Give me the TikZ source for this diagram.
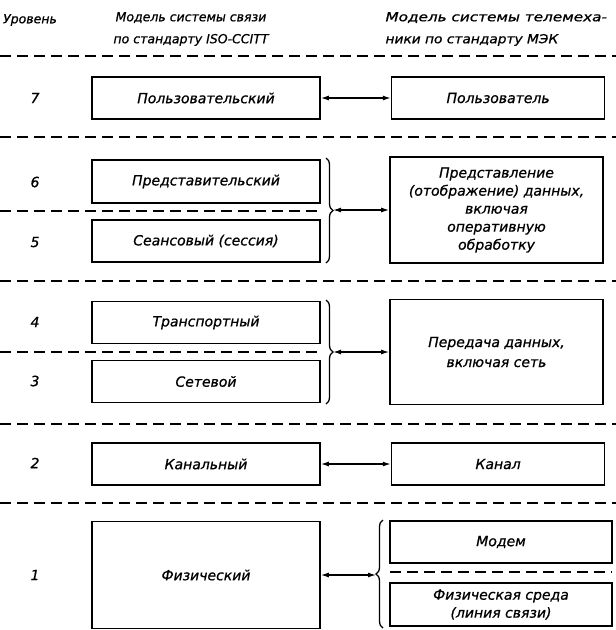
\documentclass[tikz,border=0pt]{standalone}
\usepackage{fontspec}
\setmainfont{DejaVu Sans}[FakeBold=0.8]
\usetikzlibrary{arrows.meta,positioning,decorations.pathreplacing}
\newcommand\boxfont{\fontsize{14}{18}\selectfont\itshape}
\newcommand\headfont{\fontsize{12.5}{22}\selectfont\itshape}

\begin{document}
\begin{tikzpicture}[
  x=1pt,y=-1pt,
  lbox/.style={draw,line width=1.6pt,minimum width=228pt,minimum height=42pt,
               inner sep=0pt,align=center,font=\boxfont},
  rbox/.style={lbox,minimum width=213pt},
  lvl/.style={font=\boxfont},
  arr/.style={{Latex[length=8pt,width=5pt]}-{Latex[length=8pt,width=5pt]},line width=1.3pt},
  sep/.style={dashed,dash pattern=on 11pt off 6pt,line width=1.3pt},
  brc/.style={decorate,decoration={brace,amplitude=7pt},line width=1.3pt}
]
\useasboundingbox (0,0) rectangle (616,630);
% header
\node[font=\headfont] (hlvl) at (30,20) {Уровень};
\node[font=\headfont,align=center] (hiso) at (191,29) {Модель системы связи\\по стандарту ISO-CCITT};
\node[font=\headfont,align=left,anchor=west] (hmek) at (382,29)
  {\scalebox{1.22}[1]{Модель системы телемеха-}\\\scalebox{1.1}[1]{ники по стандарту МЭК}};
\draw[sep] (0,56) -- (616,56);
% level 7
\node[lvl] (n7) at (35,98) {7};
\node[lbox] (l7) at (206,98) {Пользовательский};
\node[rbox,right=70pt of l7] (r7) {Пользователь};
\draw[arr] (l7) -- (r7);
\draw[sep] (0,137) -- (616,137);
% levels 6, 5
\node[lvl] (n6) at (35,182) {6};
\node[lvl] (n5) at (35,242) {5};
\node[lbox,minimum height=43pt] (l6) at (206,181.5) {Представительский};
\node[lbox] (l5) at (206,241) {Сеансовый (сессия)};
\draw[sep] (0,211) -- (322,211);
\node[rbox,minimum height=106pt] (r65) at (496.5,210)
  {Представление\\(отображение) данных,\\включая\\оперативную\\обработку};
\draw[brc] (326,158) -- (326,263);
\coordinate (b65) at (333,210);
\draw[arr] (b65) -- (r65);
\draw[sep] (0,281) -- (616,281);
% levels 4, 3
\node[lvl] (n4) at (35,322) {4};
\node[lvl] (n3) at (35,381) {3};
\node[lbox] (l4) at (206,322.5) {Транспортный};
\node[lbox] (l3) at (206,381.5) {Сетевой};
\draw[sep] (0,352) -- (322,352);
\node[rbox,minimum height=105pt] (r43) at (496.5,352)
  {Передача данных,\\[2pt]включая сеть};
\draw[brc] (326,300) -- (326,404);
\coordinate (b43) at (333,352);
\draw[arr] (b43) -- (r43);
\draw[sep] (0,424) -- (616,424);
% level 2
\node[lvl] (n2) at (35,463) {2};
\node[lbox] (l2) at (206,464) {Канальный};
\node[rbox,right=70pt of l2] (r2) {Канал};
\draw[arr] (l2) -- (r2);
\draw[sep] (0,503) -- (616,503);
% level 1
\node[lvl] (n1) at (35,575) {1};
\node[lbox,minimum height=107pt] (l1) at (206,575) {Физический};
\node[rbox,minimum width=222pt] (rm) at (501,542) {Модем};
\node[rbox,minimum width=222pt,minimum height=43pt] (rf) at (501,604.5)
  {Физическая среда\\(линия связи)};
\draw[sep] (390,572) -- (612,572);
\draw[brc] (383,628) -- (383,520);
\coordinate (b1) at (376,575);
\draw[arr] (l1) -- (b1);
\end{tikzpicture}
\end{document}
